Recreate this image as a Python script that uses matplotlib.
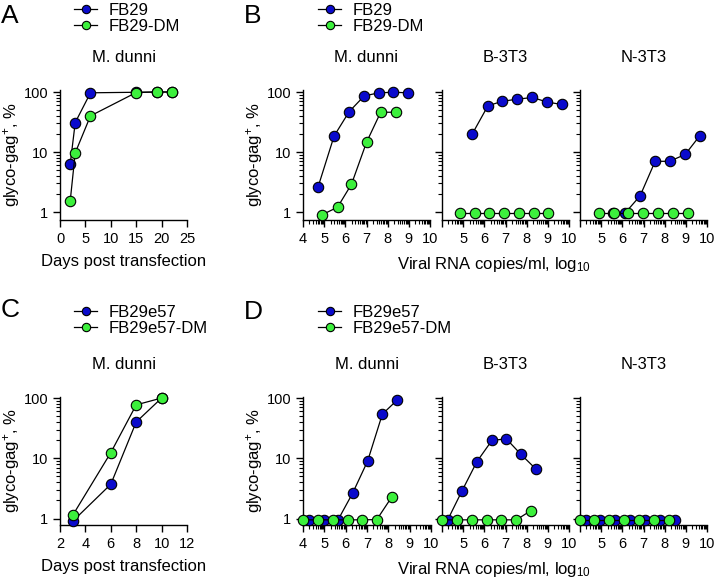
import numpy as np
import matplotlib
matplotlib.use("Agg")
import matplotlib.pyplot as plt
from matplotlib.ticker import FixedLocator, FixedFormatter, NullFormatter

plt.rcParams['font.family'] = ['Liberation Sans', 'DejaVu Sans']
plt.rcParams['mathtext.fontset'] = 'custom'
plt.rcParams['mathtext.rm'] = 'Liberation Sans'
plt.rcParams['mathtext.it'] = 'Liberation Sans:italic'
plt.rcParams['mathtext.bf'] = 'Liberation Sans:bold'

BLUE = "#0a0acc"
GREEN = "#3cf03c"

# --- Panel A: days post transfection, M. dunni
a_days = [2, 3, 6, 15, 19, 22]
a_fb29 = [6.2, 31, 97, 99, 100, 100]
a_fb29_dm = [1.5, 9.7, 40, 98, 100, 100]

# --- Panel B: viral RNA (log10) vs glyco-gag+
b_md_x = [4.71, 5.47, 6.18, 6.89, 7.59, 8.27, 8.98]
b_md_y = [2.6, 18.5, 47, 86, 97, 99, 97]
b_md_dm_x = [4.90, 5.63, 6.29, 7.00, 7.67, 8.39]
b_md_dm_y = [0.9, 1.2, 2.9, 14.5, 46, 46]

b_b3_x = [5.43, 6.17, 6.85, 7.56, 8.27, 8.97, 9.65]
b_b3_y = [20, 59, 70, 76, 81, 68, 62]
b_b3_dm_x = [4.84, 5.54, 6.24, 6.95, 7.63, 8.34, 9.02]
b_b3_dm_y = [0.96, 0.96, 0.96, 0.96, 0.96, 0.96, 0.96]

b_n3_x = [5.54, 6.13, 6.84, 7.55, 8.23, 8.97, 9.65]
b_n3_y = [0.96, 0.96, 1.86, 7.0, 7.0, 9.1, 18.5]
b_n3_dm_x = [4.90, 5.60, 6.28, 6.96, 7.67, 8.38, 9.09]
b_n3_dm_y = [0.96, 0.96, 0.96, 0.96, 0.96, 0.96, 0.96]

# --- Panel C: days post transfection, M. dunni
c_days = [3, 6, 8, 10]
c_e57 = [0.9, 3.7, 40, 100]
c_e57_dm = [1.13, 12.4, 77, 100]

# --- Panel D
d_md_x = [4.27, 4.97, 5.65, 6.33, 7.03, 7.72, 8.42]
d_md_y = [0.95, 0.95, 0.96, 2.65, 9.0, 54, 93]
d_md_dm_x = [4.00, 4.70, 5.41, 6.10, 6.76, 7.46, 8.17]
d_md_dm_y = [0.95, 0.95, 0.95, 0.95, 0.95, 0.96, 2.3]

d_b3_x = [4.27, 4.94, 5.65, 6.36, 7.04, 7.73, 8.44]
d_b3_y = [0.95, 2.85, 8.8, 19.8, 21, 11.6, 6.6]
d_b3_dm_x = [4.00, 4.71, 5.42, 6.13, 6.80, 7.51, 8.20]
d_b3_dm_y = [0.95, 0.95, 0.95, 0.95, 0.95, 0.95, 1.35]

d_n3_x = [4.27, 4.95, 5.66, 6.37, 7.05, 7.76, 8.47]
d_n3_y = [0.95, 0.95, 0.95, 0.95, 0.95, 0.95, 0.95]
d_n3_dm_x = [4.00, 4.68, 5.39, 6.10, 6.80, 7.48, 8.19]
d_n3_dm_y = [0.95, 0.95, 0.95, 0.95, 0.95, 0.95, 0.95]

y_ticks = [1, 10, 100]
y_tick_labels = ["1", "10", "100"]
rna_ticks = [4, 5, 6, 7, 8, 9, 10]
ylab = "glyco-gag$^{+}$, %"
rnalab = "Viral RNA copies/ml, log$_{10}$"

W, H = 714, 579
fig = plt.figure(figsize=(W / 100, H / 100), dpi=100)


def add_ax(l, r, t, b):
	return fig.add_axes([l / W, 1 - b / H, (r - l) / W, (b - t) / H])


def series(ax, x, y, color):
	return ax.plot(x, y, color="black", lw=0.9, marker="o", ms=7.5,
		mfc=color, mec="black", mew=0.8, clip_on=False, zorder=3)[0]


def style(ax, ylim, show_ylabels):
	ax.set_yscale("log")
	ax.set_ylim(*ylim)
	ax.yaxis.set_major_locator(FixedLocator(y_ticks))
	ax.yaxis.set_minor_locator(FixedLocator(
		[k * 10 ** d for d in range(0, 2) for k in range(2, 10)]))
	ax.yaxis.set_minor_formatter(NullFormatter())
	if show_ylabels:
		ax.yaxis.set_major_formatter(FixedFormatter(y_tick_labels))
		ax.set_ylabel(ylab, fontsize=12, labelpad=1)
	else:
		ax.yaxis.set_major_formatter(NullFormatter())
	for s in ["top", "right"]:
		ax.spines[s].set_visible(False)
	for s in ["left", "bottom"]:
		ax.spines[s].set_linewidth(1.0)
	ax.tick_params(which="major", direction="out", length=5, width=1.0, labelsize=10.5)
	ax.tick_params(which="minor", direction="out", length=3, width=0.8)


def rna_axis(ax, first_label):
	ax.set_xlim(4, 10)
	ax.xaxis.set_major_locator(FixedLocator(rna_ticks))
	labels = [str(t) for t in rna_ticks]
	if not first_label:
		labels[0] = ""
	ax.xaxis.set_major_formatter(FixedFormatter(labels))
	ax.xaxis.set_minor_locator(FixedLocator(
		[n + np.log10(k) for n in range(4, 10) for k in range(2, 10)]))


def legend(handles, labels, x, y):
	fig.legend(handles, labels, loc="upper left", bbox_to_anchor=(x / W, 1 - y / H),
		frameon=False, fontsize=12, handlelength=1.4, handletextpad=0.7,
		labelspacing=0.05, borderpad=0, borderaxespad=0, markerscale=0.8)


def letter(x, y, s):
	fig.text(x / W, 1 - y / H, s, fontsize=19, va="top", ha="left")


# ---------- Row 1 ----------
top1, bot1 = 90, 220
ylim1 = (0.736, 108)

axA = add_ax(60, 187, top1, bot1)
hA1 = series(axA, a_days, a_fb29, BLUE)
hA2 = series(axA, a_days, a_fb29_dm, GREEN)
style(axA, ylim1, True)
axA.set_xlim(0, 25)
axA.set_xticks([0, 5, 10, 15, 20, 25])
axA.set_xlabel("Days post transfection", fontsize=12, labelpad=6)
axA.set_title("M. dunni", fontsize=12, pad=20)
legend([hA1, hA2], ["FB29", "FB29-DM"], 74, 3)
letter(1, 4, "A")

axB1 = add_ax(303, 430, top1, bot1)
hB1 = series(axB1, b_md_x, b_md_y, BLUE)
hB2 = series(axB1, b_md_dm_x, b_md_dm_y, GREEN)
style(axB1, ylim1, True)
rna_axis(axB1, True)
axB1.set_title("M. dunni", fontsize=12, pad=20)

axB2 = add_ax(442, 569, top1, bot1)
series(axB2, b_b3_x, b_b3_y, BLUE)
series(axB2, b_b3_dm_x, b_b3_dm_y, GREEN)
style(axB2, ylim1, False)
rna_axis(axB2, False)
axB2.set_title("B-3T3", fontsize=12, pad=20)
axB2.set_xlabel(rnalab, fontsize=12, labelpad=6)
axB2.xaxis.set_label_coords(0.41, -0.27)

axB3 = add_ax(580, 707, top1, bot1)
series(axB3, b_n3_x, b_n3_y, BLUE)
series(axB3, b_n3_dm_x, b_n3_dm_y, GREEN)
style(axB3, ylim1, False)
rna_axis(axB3, False)
axB3.set_title("N-3T3", fontsize=12, pad=20)
legend([hB1, hB2], ["FB29", "FB29-DM"], 318, 3)
letter(244, 4, "B")

# ---------- Row 2 ----------
top2, bot2 = 397, 525
ylim2 = (0.78, 104)

axC = add_ax(60, 187, top2, bot2)
hC1 = series(axC, c_days, c_e57, BLUE)
hC2 = series(axC, c_days, c_e57_dm, GREEN)
style(axC, ylim2, True)
axC.set_xlim(2, 12)
axC.set_xticks([2, 4, 6, 8, 10, 12])
axC.set_xlabel("Days post transfection", fontsize=12, labelpad=6)
axC.set_title("M. dunni", fontsize=12, pad=20)
legend([hC1, hC2], ["FB29e57", "FB29e57-DM"], 74, 305)
letter(1, 298, "C")

axD1 = add_ax(303, 431, top2, bot2)
hD1 = series(axD1, d_md_x, d_md_y, BLUE)
hD2 = series(axD1, d_md_dm_x, d_md_dm_y, GREEN)
style(axD1, ylim2, True)
rna_axis(axD1, True)
axD1.set_title("M. dunni", fontsize=12, pad=20)

axD2 = add_ax(442, 569, top2, bot2)
series(axD2, d_b3_x, d_b3_y, BLUE)
series(axD2, d_b3_dm_x, d_b3_dm_y, GREEN)
style(axD2, ylim2, False)
rna_axis(axD2, False)
axD2.set_title("B-3T3", fontsize=12, pad=20)
axD2.set_xlabel(rnalab, fontsize=12, labelpad=6)
axD2.xaxis.set_label_coords(0.41, -0.27)

axD3 = add_ax(580, 707, top2, bot2)
series(axD3, d_n3_x, d_n3_y, BLUE)
series(axD3, d_n3_dm_x, d_n3_dm_y, GREEN)
style(axD3, ylim2, False)
rna_axis(axD3, False)
axD3.set_title("N-3T3", fontsize=12, pad=20)
legend([hD1, hD2], ["FB29e57", "FB29e57-DM"], 318, 305)
letter(244, 300, "D")

fig.savefig("out.png", dpi=100)
